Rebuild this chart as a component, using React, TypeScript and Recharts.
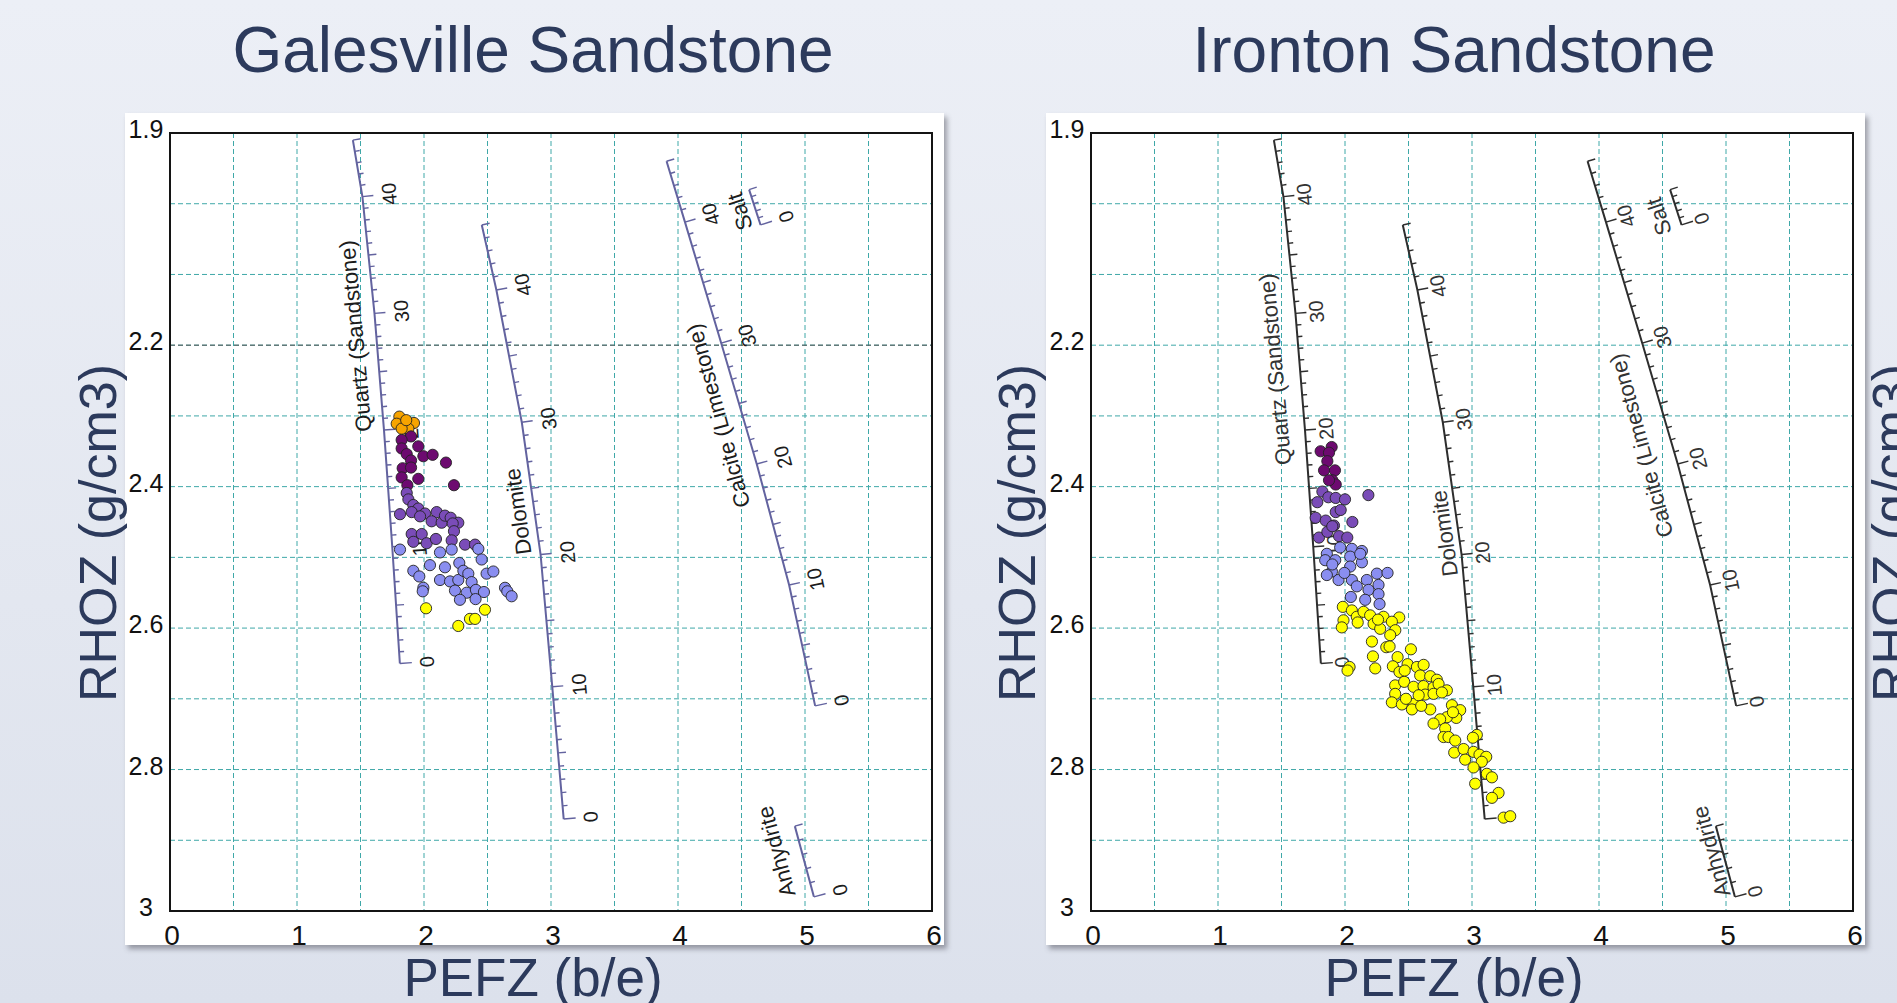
import React from "react";
import { ScatterChart, Scatter, XAxis, YAxis, CartesianGrid, ReferenceLine } from "recharts";

const FONT = "'Liberation Sans', Arial, Helvetica, sans-serif";

// axes
const X_TICKS = [0, 0.5, 1, 1.5, 2, 2.5, 3, 3.5, 4, 4.5, 5, 5.5, 6];
const Y_TICKS = [1.9, 2.0, 2.1, 2.2, 2.3, 2.4, 2.5, 2.6, 2.7, 2.8, 2.9, 3.0];
const Y_LABELS = [1.9, 2.2, 2.4, 2.6, 2.8, 3];

// mineral porosity scales (porosity %, PEFZ, RHOZ)
const QUARTZ = { phi: [0, 10, 20, 30, 40, 45], pe: [1.81, 1.75, 1.685, 1.61, 1.515, 1.44], rho: [2.65, 2.485, 2.32, 2.155, 1.99, 1.91], labels: [0, 10, 20, 30, 40] };
const DOLOMITE = { phi: [0, 10, 20, 30, 40, 45], pe: [3.1, 3.01, 2.918, 2.77, 2.57, 2.455], rho: [2.87, 2.683, 2.496, 2.309, 2.122, 2.03], labels: [0, 10, 20, 30, 40] };
const CALCITE = { phi: [0, 10, 20, 30, 40, 45], pe: [5.08, 4.875, 4.62, 4.34, 4.055, 3.91], rho: [2.71, 2.539, 2.368, 2.197, 2.026, 1.94], labels: [0, 10, 20, 30, 40] };
const SALT = { phi: [0, 5], pe: [4.65, 4.56], rho: [2.03, 1.98], labels: [0] };
const ANHYDRITE = { phi: [0, 5], pe: [5.07, 4.92], rho: [2.98, 2.88], labels: [0] };
const MINERALS = [QUARTZ, DOLOMITE, CALCITE, SALT, ANHYDRITE];
const MINERAL_NAMES = ["Quartz (Sandstone)", "Dolomite", "Calcite (Limestone)", "Salt", "Anhydrite"];

// where the mineral names sit in each panel [PEFZ, RHOZ]
const GAL_NAME_POS = [[1.461, 2.187], [2.741, 2.435], [4.317, 2.3], [4.488, 2.011], [4.775, 2.916]];
const IRO_NAME_POS = [[1.45, 2.234], [2.785, 2.466], [4.334, 2.342], [4.472, 2.018], [4.885, 2.916]];

// Galesville Sandstone points [PEFZ, RHOZ]
const GAL_ORANGE = [[1.806, 2.301], [1.785, 2.311], [1.921, 2.31], [1.877, 2.318], [1.824, 2.318], [1.86, 2.306]];
const GAL_DARK = [[1.898, 2.329], [1.824, 2.334], [1.955, 2.343], [1.824, 2.346], [1.864, 2.354], [1.995, 2.357], [2.068, 2.355], [1.898, 2.363], [2.173, 2.366], [1.832, 2.374], [1.898, 2.373], [1.824, 2.387], [1.955, 2.389], [1.869, 2.398], [2.236, 2.398]];
const GAL_MID = [[1.864, 2.409], [1.877, 2.418], [1.916, 2.426], [1.955, 2.431], [1.811, 2.439], [1.903, 2.436], [2.008, 2.438], [2.1, 2.436], [1.969, 2.442], [2.06, 2.449], [2.139, 2.451], [2.165, 2.441], [2.21, 2.444], [2.27, 2.451], [2.226, 2.452], [2.236, 2.463], [1.903, 2.467], [1.982, 2.467], [1.916, 2.478], [2.021, 2.48], [2.094, 2.474], [2.218, 2.476], [2.323, 2.482], [2.402, 2.482]];
const GAL_LIGHT = [[1.811, 2.489], [2.126, 2.493], [2.218, 2.489], [2.428, 2.488], [2.454, 2.503], [2.047, 2.511], [2.165, 2.514], [2.278, 2.508], [1.916, 2.519], [1.963, 2.527], [2.126, 2.532], [2.205, 2.534], [2.27, 2.532], [2.31, 2.519], [2.349, 2.523], [2.375, 2.535], [2.493, 2.523], [2.546, 2.52], [1.995, 2.543], [2.244, 2.547], [2.336, 2.55], [2.409, 2.546], [2.472, 2.549], [2.283, 2.56], [2.406, 2.559], [2.638, 2.543], [2.656, 2.548], [2.69, 2.555], [1.99, 2.548]];
const GAL_YELLOW = [[2.016, 2.572], [2.48, 2.574], [2.362, 2.587], [2.402, 2.587], [2.27, 2.597]];

// Ironton Sandstone points [PEFZ, RHOZ]
const IRO_DARK = [[1.808, 2.35], [1.895, 2.344], [1.874, 2.352], [1.861, 2.364], [1.835, 2.377], [1.921, 2.377], [1.9, 2.391], [1.927, 2.397], [1.874, 2.391]];
const IRO_MID = [[1.822, 2.407], [1.782, 2.422], [1.869, 2.415], [1.927, 2.416], [2.0, 2.418], [2.184, 2.412], [1.769, 2.444], [1.848, 2.448], [1.927, 2.436], [1.966, 2.433], [1.913, 2.455], [2.058, 2.45], [1.795, 2.472], [1.861, 2.464], [1.953, 2.47], [2.018, 2.472], [1.9, 2.456]];
const IRO_LIGHT = [[1.857, 2.495], [1.962, 2.486], [2.054, 2.488], [2.133, 2.491], [1.844, 2.504], [1.923, 2.504], [2.041, 2.499], [2.133, 2.507], [1.897, 2.52], [1.949, 2.532], [2.041, 2.513], [2.054, 2.532], [2.172, 2.532], [2.251, 2.523], [2.335, 2.522], [2.093, 2.541], [2.185, 2.546], [2.264, 2.539], [2.046, 2.556], [2.159, 2.56], [2.264, 2.552], [2.272, 2.566], [1.857, 2.525], [2.12, 2.495], [1.9, 2.51], [1.995, 2.522]];
const IRO_YELLOW = [
  [1.983, 2.57], [2.054, 2.575], [1.988, 2.589], [2.093, 2.584], [2.146, 2.577], [2.198, 2.582], [2.303, 2.584], [2.427, 2.585], [2.369, 2.591], [2.225, 2.594], [2.277, 2.601], [2.396, 2.603], [2.356, 2.61], [1.975, 2.599], [2.212, 2.619], [2.325, 2.627], [2.22, 2.64], [2.351, 2.626], [2.238, 2.657], [2.036, 2.655], [2.02, 2.66], [2.414, 2.641], [2.377, 2.654], [2.493, 2.651], [2.519, 2.63], [2.566, 2.655], [2.619, 2.652], [2.429, 2.662], [2.592, 2.667], [2.671, 2.668], [2.723, 2.673],
  [2.395, 2.681], [2.466, 2.676], [2.54, 2.683], [2.618, 2.682], [2.697, 2.684], [2.737, 2.679], [2.802, 2.688], [2.395, 2.693], [2.369, 2.705], [2.448, 2.708], [2.54, 2.707], [2.527, 2.715], [2.631, 2.694], [2.697, 2.693], [2.763, 2.691], [2.671, 2.715], [2.842, 2.709], [2.907, 2.716], [2.876, 2.727], [2.802, 2.726], [2.749, 2.729], [2.697, 2.735], [2.789, 2.742], [2.776, 2.754], [2.815, 2.754], [2.868, 2.759], [2.86, 2.776], [2.934, 2.771], [2.946, 2.786], [3.012, 2.775], [3.059, 2.779], [3.112, 2.782], [3.077, 2.789], [3.012, 2.797], [3.025, 2.82], [3.117, 2.806], [3.157, 2.811], [3.209, 2.833], [3.157, 2.84], [3.249, 2.868], [3.301, 2.866], [3.038, 2.751], [3.007, 2.755], [2.85, 2.719],
  [2.1, 2.592], [2.26, 2.588], [2.47, 2.66], [2.58, 2.695], [2.48, 2.7], [2.6, 2.71],
];

const COLORS = {
  orange: "#f7a400",
  dark: "#6d0a70",
  mid: "#7a4cb8",
  light: "#8a8ef0",
  yellow: "#ffff00",
};

// panel geometry
const PANEL_W = 819;
const PANEL_H = 832;
const EXTRA = 24; // room under the white panel so tick labels are not clipped
const MARGIN = { top: 20, right: 12, left: 0, bottom: EXTRA };
const Y_W = 45;
const X_H = 34;
const PLOT_W = PANEL_W - Y_W - MARGIN.right;
const PLOT_H = PANEL_H - MARGIN.top - X_H;
const PX_X = PLOT_W / 6;
const PX_Y = PLOT_H / 1.1;

const toXY = (arr: number[][]) => arr.map(([x, y]) => ({ x, y }));

function buildScale(m: any, numOffset: number) {
  const ticks: any[] = [];
  const nums: any[] = [];
  const maxPhi = m.phi[m.phi.length - 1];
  for (let p = 0; p <= maxPhi; p++) {
    let i = 0;
    while (i < m.phi.length - 2 && p > m.phi[i + 1]) i++;
    const t = (p - m.phi[i]) / (m.phi[i + 1] - m.phi[i]);
    const x = m.pe[i] + t * (m.pe[i + 1] - m.pe[i]);
    const y = m.rho[i] + t * (m.rho[i + 1] - m.rho[i]);
    const dx = (m.pe[i + 1] - m.pe[i]) * PX_X;
    const dy = (m.rho[i + 1] - m.rho[i]) * PX_Y;
    const L = Math.hypot(dx, dy);
    const nx = -dy / L;
    const ny = dx / L;
    const len = p === 0 ? 12 : p % 10 === 0 ? 11 : p % 5 === 0 ? 8 : 5;
    ticks.push({ x, y, nx, ny, len });
    if (m.labels.includes(p)) {
      nums.push({
        x: x + (numOffset * nx) / PX_X,
        y: y + (numOffset * ny) / PX_Y,
        text: String(p),
        angle: (Math.atan2(dy, dx) * 180) / Math.PI,
      });
    }
  }
  return { ticks, nums };
}

function lineAngle(m: any) {
  const n = m.phi.length - 1;
  const dx = (m.pe[n] - m.pe[0]) * PX_X;
  const dy = (m.rho[n] - m.rho[0]) * PX_Y;
  return (Math.atan2(dy, dx) * 180) / Math.PI;
}

const Empty = () => <g />;

const XTick = (props: any) => {
  const v = props.payload.value;
  if (!Number.isInteger(v)) return <g />;
  return (
    <text x={props.x + 2} y={MARGIN.top + PLOT_H + 24} textAnchor="middle" dominantBaseline="central" fontSize={28} fill="#111" fontFamily={FONT}>
      {v}
    </text>
  );
};

const YTick = (props: any) => {
  const v = props.payload.value;
  if (!Y_LABELS.includes(v)) return <g />;
  return (
    <text x={Y_W - 24} y={props.y - 4} textAnchor="middle" dominantBaseline="central" fontSize={25} fill="#111" fontFamily={FONT}>
      {String(v)}
    </text>
  );
};

function Panel({ left, top, series, namePos, lineColor, textColor, numOffset, darkRef }: any) {
  const scales = MINERALS.map((m) => buildScale(m, numOffset));
  const ticks = scales.flatMap((s) => s.ticks);
  const nums = scales.flatMap((s) => s.nums);
  const names = MINERALS.map((m, i) => ({ x: namePos[i][0], y: namePos[i][1], text: MINERAL_NAMES[i], angle: lineAngle(m) }));

  const tickShape = (p: any) => {
    const d = p.payload;
    return <line x1={p.cx} y1={p.cy} x2={p.cx + d.len * d.nx} y2={p.cy + d.len * d.ny} stroke={lineColor} strokeWidth={1.4} />;
  };
  const textShape = (size: number) => (p: any) => (
    <text
      x={p.cx}
      y={p.cy}
      transform={`rotate(${p.payload.angle} ${p.cx} ${p.cy})`}
      textAnchor="middle"
      dominantBaseline="central"
      fontSize={size}
      fill={textColor}
      fontFamily={FONT}
    >
      {p.payload.text}
    </text>
  );
  const dot = (color: string) => (p: any) => <circle cx={p.cx} cy={p.cy} r={5.6} fill={color} stroke="#222" strokeWidth={0.9} />;

  return (
    <div
      style={{
        position: "absolute",
        left,
        top,
        width: PANEL_W,
        height: PANEL_H,
        background: "#ffffff",
        boxShadow: "3px 4px 5px rgba(60,60,70,0.45)",
      }}
    >
      <ScatterChart width={PANEL_W} height={PANEL_H + EXTRA} margin={MARGIN}>
        <CartesianGrid stroke="#3fa8a8" strokeDasharray="5 3" strokeWidth={1} />
        <XAxis type="number" dataKey="x" domain={[0, 6]} ticks={X_TICKS} interval={0} allowDataOverflow axisLine={false} tickLine={false} height={X_H} tick={XTick} />
        <YAxis type="number" dataKey="y" domain={[1.9, 3]} reversed ticks={Y_TICKS} interval={0} allowDataOverflow axisLine={false} tickLine={false} width={Y_W} tick={YTick} />
        {darkRef && <ReferenceLine y={2.2} stroke="#555" strokeDasharray="5 3" strokeWidth={1} />}
        {MINERALS.map((m, i) => (
          <Scatter
            key={"line" + i}
            data={m.phi.map((_: number, k: number) => ({ x: m.pe[k], y: m.rho[k] }))}
            line={{ stroke: lineColor, strokeWidth: 2 }}
            shape={Empty}
            isAnimationActive={false}
          />
        ))}
        <Scatter data={ticks} shape={tickShape} isAnimationActive={false} />
        <Scatter data={nums} shape={textShape(20)} isAnimationActive={false} />
        <Scatter data={names} shape={textShape(22)} isAnimationActive={false} />
        {series.map((s: any, i: number) => (
          <Scatter key={"s" + i} data={toXY(s.data)} shape={dot(s.color)} isAnimationActive={false} />
        ))}
      </ScatterChart>
      <div
        style={{
          position: "absolute",
          left: Y_W - 1,
          top: MARGIN.top - 1,
          width: PLOT_W + 2,
          height: PLOT_H + 2,
          border: "2px solid #141414",
          boxSizing: "border-box",
        }}
      />
    </div>
  );
}

const TITLE_COLOR = "#2c3a5c";

export default function App() {
  return (
    <div
      style={{
        position: "absolute",
        left: 0,
        top: 0,
        width: 1897,
        height: 1003,
        overflow: "hidden",
        background: "linear-gradient(180deg, #eceff6 0%, #e3e7f0 60%, #dce1ec 100%)",
        fontFamily: FONT,
      }}
    >
      <Panel
        left={125}
        top={113}
        lineColor="#63639f"
        textColor="#1c1c1c"
        numOffset={27}
        darkRef
        namePos={GAL_NAME_POS}
        series={[
          { data: GAL_ORANGE, color: COLORS.orange },
          { data: GAL_DARK, color: COLORS.dark },
          { data: GAL_MID, color: COLORS.mid },
          { data: GAL_LIGHT, color: COLORS.light },
          { data: GAL_YELLOW, color: COLORS.yellow },
        ]}
      />
      <Panel
        left={1046}
        top={113}
        lineColor="#2e2e2e"
        textColor="#333333"
        numOffset={21}
        darkRef={false}
        namePos={IRO_NAME_POS}
        series={[
          { data: IRO_DARK, color: COLORS.dark },
          { data: IRO_MID, color: COLORS.mid },
          { data: IRO_LIGHT, color: COLORS.light },
          { data: IRO_YELLOW, color: COLORS.yellow },
        ]}
      />
      <svg width={1897} height={1003} style={{ position: "absolute", left: 0, top: 0, pointerEvents: "none" }}>
        <g fontFamily={FONT} fill={TITLE_COLOR}>
          <text x={533} y={72} fontSize={64} textAnchor="middle">Galesville Sandstone</text>
          <text x={1454} y={72} fontSize={64} textAnchor="middle">Ironton Sandstone</text>
          <text x={533} y={996} fontSize={53} textAnchor="middle">PEFZ (b/e)</text>
          <text x={1454} y={996} fontSize={53} textAnchor="middle">PEFZ (b/e)</text>
          <text x={116} y={533} fontSize={52} textAnchor="middle" transform="rotate(-90 116 533)">RHOZ (g/cm3)</text>
          <text x={1035} y={533} fontSize={52} textAnchor="middle" transform="rotate(-90 1035 533)">RHOZ (g/cm3)</text>
          <text x={1909} y={533} fontSize={52} textAnchor="middle" transform="rotate(-90 1909 533)">RHOZ (g/cm3)</text>
        </g>
      </svg>
    </div>
  );
}
